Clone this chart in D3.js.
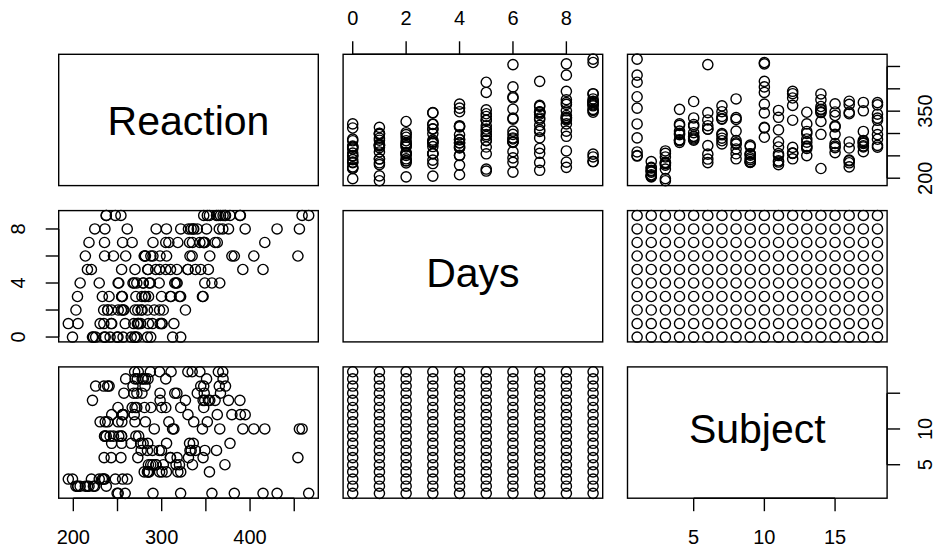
<!DOCTYPE html>
<html>
<head>
<meta charset="utf-8">
<script src="https://cdn.jsdelivr.net/npm/d3@7"></script>
<style>
  html, body { margin: 0; padding: 0; background: #ffffff; }
  svg { display: block; }
  text { font-family: "Liberation Sans", Arial, Helvetica, sans-serif; fill: #000; }
</style>
</head>
<body>
<svg id="chart" width="935" height="548"></svg>
<script>
// sleepstudy: reaction time (ms) of 18 subjects over 10 days of sleep deprivation
const variables = ["Reaction", "Days", "Subject"];
const subjectIds = [308, 309, 310, 330, 331, 332, 333, 334, 335, 337, 349, 350, 351, 352, 369, 370, 371, 372];
const dayValues = [0, 1, 2, 3, 4, 5, 6, 7, 8, 9];
const reactionBySubject = [
  [249.5600, 258.7047, 250.8006, 321.4398, 356.8519, 414.6901, 382.2038, 290.1486, 430.5853, 466.3535],
  [222.7339, 205.2658, 202.9778, 204.7070, 207.7161, 215.9618, 213.6303, 217.7272, 224.2957, 237.3142],
  [199.0539, 194.3322, 234.3200, 232.8416, 229.3074, 220.4579, 235.4208, 255.7511, 261.0125, 247.5153],
  [321.5426, 300.4002, 283.8565, 285.1330, 285.7973, 297.5855, 280.2396, 318.2613, 305.3495, 354.0487],
  [287.6079, 285.0000, 301.8206, 320.1153, 316.2773, 293.3187, 290.0750, 334.8177, 293.7469, 371.5811],
  [234.8606, 242.8118, 272.9613, 309.7688, 317.4629, 309.9976, 454.1619, 346.8311, 330.3003, 253.8644],
  [283.8424, 289.5550, 276.7693, 299.8097, 297.1710, 338.1665, 332.0265, 348.8399, 333.3600, 362.0428],
  [265.4731, 276.2012, 243.3647, 254.6723, 279.0244, 284.1912, 305.5248, 331.5229, 335.7469, 377.2990],
  [241.6083, 273.9472, 254.4907, 270.8021, 251.4519, 254.6362, 245.4523, 235.3110, 235.7541, 237.2466],
  [312.3666, 313.8058, 291.6112, 346.1222, 365.7324, 391.8385, 404.2601, 416.6923, 455.8643, 458.9167],
  [236.1032, 230.3167, 238.9256, 254.9220, 250.7103, 269.7744, 281.5648, 308.1020, 336.2806, 351.6451],
  [256.2968, 243.4543, 256.2046, 255.5271, 268.9165, 329.7247, 379.4445, 362.9184, 394.4872, 389.0527],
  [250.5265, 300.0576, 269.8939, 280.5891, 271.8274, 304.6336, 287.7466, 266.5955, 321.5418, 347.5655],
  [221.6771, 298.1939, 326.8785, 346.8555, 348.7402, 352.8287, 354.4266, 360.4326, 375.6406, 388.5417],
  [271.9235, 268.4369, 257.2424, 277.6566, 314.8222, 317.2135, 298.1353, 348.1229, 340.2800, 366.5131],
  [225.2640, 234.5235, 238.9008, 240.4730, 267.5373, 344.1937, 281.1481, 347.5855, 365.1630, 372.2288],
  [269.8804, 272.4428, 277.8989, 281.7895, 279.1705, 284.5120, 259.2658, 304.6306, 350.7807, 369.4692],
  [269.4117, 273.4740, 297.5968, 310.6316, 287.1726, 329.6076, 334.4818, 343.2199, 369.1417, 364.1236]
];
const reactionTicks = [200, 250, 300, 350, 400, 450];
const dayTicks = [0, 2, 4, 6, 8];
const subjectTicks = [5, 10, 15];

// one row per observation; Subject is used as its factor code 1..18
const rows = [];
subjectIds.forEach((id, s) => {
  dayValues.forEach((d, k) => {
    rows.push({ Reaction: reactionBySubject[s][k], Days: d, Subject: s + 1 });
  });
});

const tickSets = { Reaction: reactionTicks, Days: dayTicks, Subject: subjectTicks };

// layout of the 3x3 grid
const gridLeft = 58.7, gridTop = 54.3, panelW = 259.6, panelH = 131.3, gapX = 24.8, gapY = 25.0;
const tickLen = 13;
const axisFont = 20, labelFont = 41;
const pointR = 5.1, lineW = 1.4;
const colX = i => gridLeft + i * (panelW + gapX);
const rowY = i => gridTop + i * (panelH + gapY);

// domain widened by 4% each side
function extended(v) {
  const [lo, hi] = d3.extent(rows, r => r[v]);
  const pad = (hi - lo) * 0.04;
  return [lo - pad, hi + pad];
}
const xScales = {}, yScales = {};
variables.forEach((v, i) => {
  xScales[v] = d3.scaleLinear().domain(extended(v)).range([colX(i), colX(i) + panelW]);
  yScales[v] = d3.scaleLinear().domain(extended(v)).range([rowY(i) + panelH, rowY(i)]);
});

const svg = d3.select("#chart");
svg.append("rect").attr("width", 935).attr("height", 548).attr("fill", "#fff");

const n = variables.length;
for (let r = 0; r < n; r++) {
  for (let c = 0; c < n; c++) {
    const g = svg.append("g");
    if (r === c) {
      const name = variables[r];
      const cy = rowY(r) + panelH / 2;
      // centre on the ascent/descent box of the word
      const hasDesc = /[gjpqy]/.test(name);
      const asc = /[bdfhklt]/.test(name.slice(1)) ? 0.729 : 0.716;
      const desc = hasDesc ? 0.21 : 0;
      const baseline = cy + (asc - desc) / 2 * labelFont;
      g.append("text")
        .attr("x", colX(c) + panelW / 2)
        .attr("y", baseline)
        .attr("text-anchor", "middle")
        .attr("font-size", labelFont)
        .text(name);
    } else {
      const xv = variables[c], yv = variables[r];
      g.selectAll("circle").data(rows).join("circle")
        .attr("cx", d => xScales[xv](d[xv]))
        .attr("cy", d => yScales[yv](d[yv]))
        .attr("r", pointR)
        .attr("fill", "none")
        .attr("stroke", "#000")
        .attr("stroke-width", lineW);
    }
    g.append("rect")
      .attr("x", colX(c)).attr("y", rowY(r))
      .attr("width", panelW).attr("height", panelH)
      .attr("fill", "none").attr("stroke", "#000").attr("stroke-width", lineW);
  }
}

// drop labels that would collide with the previous one drawn (gap of one "m")
function thinLabels(sel) {
  let lastEnd = -Infinity;
  const gap = axisFont * 0.833;
  sel.nodes().forEach(node => {
    const w = node.getComputedTextLength();
    const pos = +node.getAttribute("data-pos");
    const start = pos - w / 2, end = pos + w / 2;
    if (start < lastEnd + gap) node.remove();
    else lastEnd = end;
  });
}

function axisGroup() { return svg.append("g").attr("stroke", "#000").attr("stroke-width", lineW); }

// top axis: Days over column 2
{
  const v = "Days", s = xScales[v], ticks = tickSets[v], y0 = rowY(0);
  const g = axisGroup();
  g.append("line").attr("x1", s(ticks[0])).attr("x2", s(ticks[ticks.length - 1])).attr("y1", y0).attr("y2", y0);
  g.selectAll(".t").data(ticks).join("line").attr("x1", s).attr("x2", s).attr("y1", y0).attr("y2", y0 - tickLen);
  const lab = svg.append("g").selectAll("text").data(ticks).join("text")
    .attr("x", s).attr("y", 24.5).attr("data-pos", s)
    .attr("text-anchor", "middle").attr("font-size", axisFont).text(d => d);
  thinLabels(lab);
}

// bottom axes: Reaction under column 1, Subject under column 3
["Reaction", "Subject"].forEach(v => {
  const s = xScales[v], ticks = tickSets[v], y0 = rowY(n - 1) + panelH;
  const g = axisGroup();
  g.append("line").attr("x1", s(ticks[0])).attr("x2", s(ticks[ticks.length - 1])).attr("y1", y0).attr("y2", y0);
  g.selectAll(".t").data(ticks).join("line").attr("x1", s).attr("x2", s).attr("y1", y0).attr("y2", y0 + tickLen);
  const lab = svg.append("g").selectAll("text").data(ticks).join("text")
    .attr("x", s).attr("y", 544.3).attr("data-pos", s)
    .attr("text-anchor", "middle").attr("font-size", axisFont).text(d => d);
  thinLabels(lab);
});

// left axis: Days beside row 2
{
  const v = "Days", s = yScales[v], ticks = tickSets[v], x0 = colX(0);
  const g = axisGroup();
  g.append("line").attr("x1", x0).attr("x2", x0).attr("y1", s(ticks[0])).attr("y2", s(ticks[ticks.length - 1]));
  g.selectAll(".t").data(ticks).join("line").attr("y1", s).attr("y2", s).attr("x1", x0).attr("x2", x0 - tickLen);
  const lab = svg.append("g").selectAll("text").data(ticks).join("text")
    .attr("transform", d => `translate(25,${s(d)}) rotate(-90)`).attr("data-pos", d => -s(d))
    .attr("text-anchor", "middle").attr("font-size", axisFont).text(d => d);
  thinLabels(lab);
}

// right axes: Reaction beside row 1, Subject beside row 3
["Reaction", "Subject"].forEach(v => {
  const s = yScales[v], ticks = tickSets[v], x0 = colX(n - 1) + panelW;
  const g = axisGroup();
  g.append("line").attr("x1", x0).attr("x2", x0).attr("y1", s(ticks[0])).attr("y2", s(ticks[ticks.length - 1]));
  g.selectAll(".t").data(ticks).join("line").attr("y1", s).attr("y2", s).attr("x1", x0).attr("x2", x0 + tickLen);
  const lab = svg.append("g").selectAll("text").data(ticks).join("text")
    .attr("transform", d => `translate(931.7,${s(d)}) rotate(-90)`).attr("data-pos", d => -s(d))
    .attr("text-anchor", "middle").attr("font-size", axisFont).text(d => d);
  thinLabels(lab);
});
</script>
</body>
</html>
